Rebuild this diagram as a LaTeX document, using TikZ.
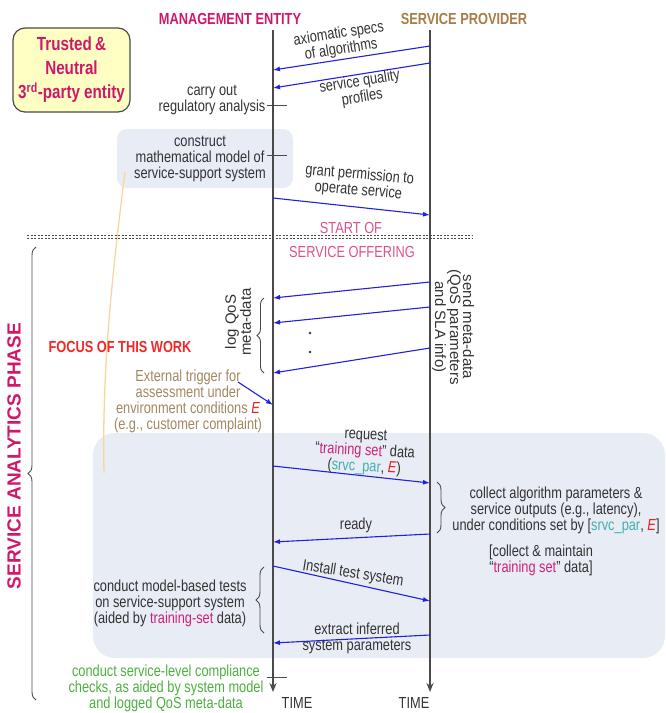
\documentclass[tikz,border=0pt]{standalone}
\usepackage{fontspec}
\setmainfont[FakeStretch=0.8]{Liberation Sans}
\newfontfamily\plainfont{Liberation Sans}
\usetikzlibrary{arrows.meta,decorations.pathreplacing}
\definecolor{ctxt}{HTML}{333333}
\definecolor{chdr}{HTML}{D0186A}
\definecolor{cpink}{HTML}{E0508A}
\definecolor{csp}{HTML}{A87C48}
\definecolor{cfocus}{HTML}{F02828}
\definecolor{ctan}{HTML}{A08860}
\definecolor{cgrn}{HTML}{4CB040}
\definecolor{cteal}{HTML}{40B0B0}
\definecolor{ctrain}{HTML}{D0207A}
\definecolor{cE}{HTML}{E82020}
\definecolor{cregion}{HTML}{E8ECF5}
\definecolor{cbox}{HTML}{FFFFC4}
\definecolor{clife}{HTML}{4A4A4A}
\definecolor{cmsg}{HTML}{2020E0}
\definecolor{corange}{HTML}{F6D79C}
\begin{document}
\begin{tikzpicture}[x=1pt,y=-1pt,
  body/.style={font=\fontsize{16}{16}\selectfont, text=ctxt, align=center, inner sep=0pt},
  hdrtext/.style={font=\fontsize{16}{16}\selectfont\bfseries, inner sep=0pt},
  rottext/.style={font=\plainfont\fontsize{15}{13}\selectfont, text=ctxt, align=center, inner sep=0pt},
  msgarrow/.style={draw=cmsg, line width=1.1pt, -{Latex[length=7pt,width=5pt]}},
  lifeline/.style={draw=clife, line width=2pt, -{Stealth[length=9pt,width=7pt]}},
  tickline/.style={draw=clife, line width=1pt},
  bracedeco/.style={draw=clife, line width=0.9pt, decorate, decoration={brace, amplitude=#1}},
  regionfill/.style={fill=cregion}
]
\useasboundingbox (0,0) rectangle (665,713);
% shaded regions
\fill[regionfill, rounded corners=22pt] (93,433) rectangle (665,658);
\fill[regionfill, rounded corners=10pt] (117,129) rectangle (293,188);
% thin orange line
\coordinate (oa) at (125,172);
\coordinate (ob) at (104,473);
\draw[corange, line width=1.3pt] (oa) .. controls (110,290) and (102,380) .. (ob);
% dashed separator
\coordinate (da1) at (27,235.3); \coordinate (db1) at (473,235.3);
\coordinate (da2) at (27,238.7); \coordinate (db2) at (473,238.7);
\draw[clife, line width=1.5pt, dash pattern=on 2.2pt off 1.3pt] (da1) -- (db1);
\draw[clife, line width=1.5pt, dash pattern=on 2.2pt off 1.3pt] (da2) -- (db2);
% headers
\node[hdrtext, text=chdr] (me) at (230,19) {MANAGEMENT ENTITY};
\node[hdrtext, text=csp] (sp) at (464,19) {SERVICE PROVIDER};
% trusted box
\node[draw=clife, fill=cbox, rounded corners=12pt, line width=1.2pt, minimum width=117pt, minimum height=84pt,
  align=center, text=chdr, font=\fontsize{19}{24}\selectfont\bfseries, inner sep=0pt] (trust) at (71.5,70)
  {Trusted\,\&\\Neutral\\3\textsuperscript{rd}-party entity};
% lifelines
\coordinate (mtop) at (273,30); \coordinate (mbot) at (273,692);
\coordinate (stop) at (430,30); \coordinate (sbot) at (430,692);
\draw[lifeline] (mtop) -- (mbot);
\draw[lifeline] (stop) -- (sbot);
% messages 1,2
\coordinate (s1) at (430,46); \coordinate (m1) at (273,70);
\draw[msgarrow] (s1) -- (m1);
\node[body, rotate=9] (l1) at (340,42) {axiomatic specs\\of algorithms};
\coordinate (s2) at (430,63); \coordinate (m2) at (273,88);
\draw[msgarrow] (s2) -- (m2);
\node[body, rotate=9] (l2) at (361,90) {service quality\\profiles};
% regulatory analysis
\coordinate (t1a) at (267,105); \coordinate (t1b) at (287,105);
\draw[tickline] (t1a) -- (t1b);
\node[body] (reg) at (212,100) {carry out\\regulatory analysis};
% construct model
\coordinate (t2a) at (267,155); \coordinate (t2b) at (287,155);
\draw[tickline] (t2a) -- (t2b);
\node[body] (cons) at (200,159) {construct\\mathematical model of\\service-support system};
% grant
\coordinate (m3) at (273,198); \coordinate (s3) at (430,215);
\draw[msgarrow] (m3) -- (s3);
\node[body, rotate=-5] (l3) at (359,183) {grant permission to\\operate service};
% start of service offering
\node[body, text=cpink] (so1) at (351,228) {START OF};
\node[body, text=cpink] (so2) at (352,252) {SERVICE OFFERING};
% meta-data messages
\coordinate (s4) at (430,282); \coordinate (m4) at (273,298);
\draw[msgarrow] (s4) -- (m4);
\coordinate (s5) at (430,307); \coordinate (m5) at (273,323);
\draw[msgarrow] (s5) -- (m5);
\coordinate (s6) at (430,348); \coordinate (m6) at (273,373);
\draw[msgarrow] (s6) -- (m6);
\fill[ctxt] (310,333) circle (1.3pt);
\fill[ctxt] (310,352) circle (1.3pt);
\coordinate (b1a) at (264,373); \coordinate (b1b) at (264,298);
\draw[bracedeco=7pt] (b1a) -- (b1b);
\node[rottext, rotate=90] (logq) at (238,322) {log QoS\\meta-data};
\node[rottext, rotate=-90] (send) at (453,327) {send meta-data\\(QoS parameters\\and SLA info)};
% focus
\node[hdrtext, text=cfocus] (focus) at (120,347) {FOCUS OF THIS WORK};
% external trigger
\node[body, text=ctan] (ext) at (188,401) {External trigger for\\assessment under\\environment conditions \textcolor{cE}{\textit{E}}\\(e.g., customer complaint)};
\coordinate (trg) at (238,382); \coordinate (m7) at (273,405);
\draw[msgarrow] (trg) -- (m7);
% request
\coordinate (m8) at (273,466); \coordinate (s8) at (430,483);
\draw[msgarrow] (m8) -- (s8);
\node[body, rotate=-3] (l8) at (365,452) {request\\``\textcolor{ctrain}{training set}'' data\\(\textcolor{cteal}{srvc\_par}, \textcolor{cE}{\textit{E}})};
\coordinate (b2a) at (437,482); \coordinate (b2b) at (437,533);
\draw[bracedeco=8pt] (b2a) -- (b2b);
\node[body] (coll) at (556,510) {collect algorithm parameters \&\\service outputs (e.g., latency),\\under conditions set by [\textcolor{cteal}{srvc\_par}, \textcolor{cE}{\textit{E}}]};
% ready
\coordinate (s9) at (430,534); \coordinate (m9) at (273,542);
\draw[msgarrow] (s9) -- (m9);
\node[body] (l9) at (356,525) {ready};
\node[body] (maint) at (541,560) {[collect \& maintain\\``\textcolor{ctrain}{training set}'' data]};
% install
\coordinate (m10) at (273,566); \coordinate (s10) at (430,601);
\draw[msgarrow] (m10) -- (s10);
\node[body, rotate=-9] (l10) at (353,574) {Install test system};
\coordinate (b3a) at (264,633); \coordinate (b3b) at (264,567);
\draw[bracedeco=8pt] (b3a) -- (b3b);
\node[body] (tests) at (170,603) {conduct model-based tests\\on service-support system\\(aided by \textcolor{ctrain}{training-set} data)};
% extract
\coordinate (s11) at (430,635); \coordinate (m11) at (273,643);
\draw[msgarrow] (s11) -- (m11);
\node[body] (l11) at (357,638) {extract inferred\\system parameters};
% compliance
\coordinate (t3a) at (267,677); \coordinate (t3b) at (287,677);
\draw[tickline] (t3a) -- (t3b);
\node[body, text=cgrn] (comp) at (166,688) {conduct service-level compliance\\checks, as aided by system model\\and logged QoS meta-data};
% time labels
\node[body] (time1) at (297,703) {TIME};
\node[body] (time2) at (414,703) {TIME};
% service analytics phase
\coordinate (b4a) at (36,700); \coordinate (b4b) at (36,247);
\draw[bracedeco=8pt] (b4a) -- (b4b);
\node[font=\plainfont\fontsize{19}{19}\selectfont\bfseries, text=chdr, rotate=90, inner sep=0pt] (sap) at (14,456) {SERVICE ANALYTICS PHASE};
\end{tikzpicture}
\end{document}
